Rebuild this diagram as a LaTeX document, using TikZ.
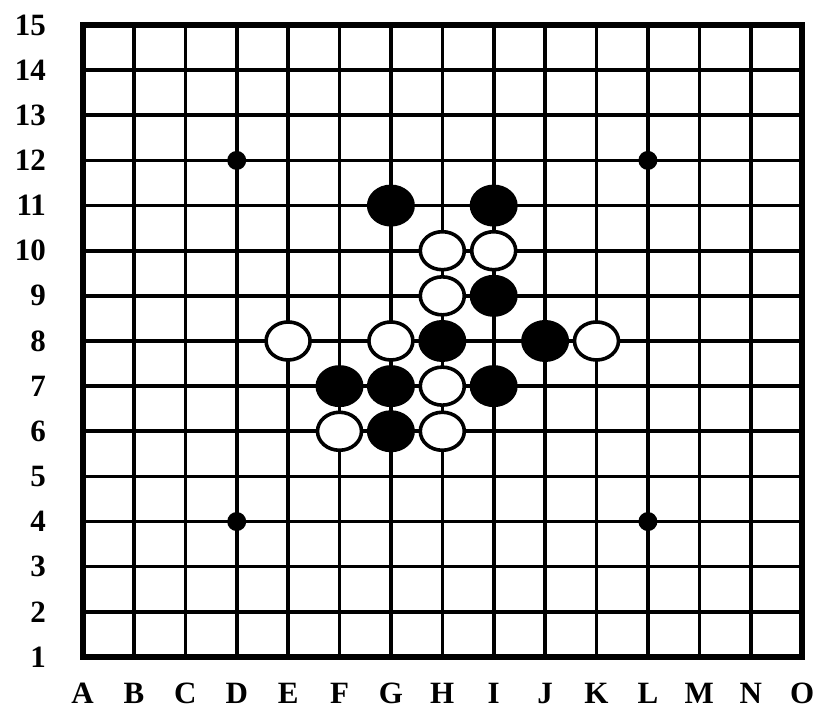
\documentclass[tikz,border=0pt]{standalone}
\usepackage{fontspec}
\setmainfont{Liberation Serif}
\usetikzlibrary{shapes.geometric}
\begin{document}
\begin{tikzpicture}[x=1pt,y=1pt,
  gridline/.style={line width=3.6pt,black},
  borderline/.style={line width=6pt,black,line join=miter},
  bstone/.style={ellipse,fill=black,minimum width=48pt,minimum height=42pt,inner sep=0pt},
  wstone/.style={ellipse,fill=white,draw=black,line width=3.6pt,minimum width=44pt,minimum height=38pt,inner sep=0pt},
  star/.style={circle,fill=black,minimum size=19pt,inner sep=0pt},
  lbl/.style={font=\bfseries\fontsize{31}{33}\selectfont,inner sep=0pt}]
\useasboundingbox (0,0) rectangle (817,-710);
\def\xA{82.5}\def\dx{51.4}\def\yT{-25}\def\dy{45.14}
% grid
\foreach \i in {1,...,13}{
  \draw[gridline] (\xA+\i*\dx,\yT) -- (\xA+\i*\dx,\yT-14*\dy);
  \draw[gridline] (\xA,\yT-\i*\dy) -- (\xA+14*\dx,\yT-\i*\dy);
}
\draw[borderline] (\xA,\yT) rectangle (\xA+14*\dx,\yT-14*\dy);
% column labels
\foreach \c [count=\i from 0] in {A,B,C,D,E,F,G,H,I,J,K,L,M,N,O}{
  \node[lbl,anchor=base] (col\c) at (\xA+\i*\dx,-703) {\c};
}
% row labels
\foreach \r in {1,...,15}{
  \node[lbl,anchor=east] (row\r) at (46,\yT-15*\dy+\r*\dy) {\r};
}
\newcommand{\pt}[2]{(\xA+#1*\dx,\yT-15*\dy+#2*\dy)}
% star points
\node[star] (s1) at \pt{3}{12} {};
\node[star] (s2) at \pt{11}{12} {};
\node[star] (s3) at \pt{3}{4} {};
\node[star] (s4) at \pt{11}{4} {};
% black stones (col index A=0)
\node[bstone] (bG11) at \pt{6}{11} {};
\node[bstone] (bI11) at \pt{8}{11} {};
\node[bstone] (bI9) at \pt{8}{9} {};
\node[bstone] (bH8) at \pt{7}{8} {};
\node[bstone] (bJ8) at \pt{9}{8} {};
\node[bstone] (bF7) at \pt{5}{7} {};
\node[bstone] (bG7) at \pt{6}{7} {};
\node[bstone] (bI7) at \pt{8}{7} {};
\node[bstone] (bG6) at \pt{6}{6} {};
% white stones
\node[wstone] (wH10) at \pt{7}{10} {};
\node[wstone] (wI10) at \pt{8}{10} {};
\node[wstone] (wH9) at \pt{7}{9} {};
\node[wstone] (wE8) at \pt{4}{8} {};
\node[wstone] (wG8) at \pt{6}{8} {};
\node[wstone] (wK8) at \pt{10}{8} {};
\node[wstone] (wH7) at \pt{7}{7} {};
\node[wstone] (wF6) at \pt{5}{6} {};
\node[wstone] (wH6) at \pt{7}{6} {};
\end{tikzpicture}
\end{document}
